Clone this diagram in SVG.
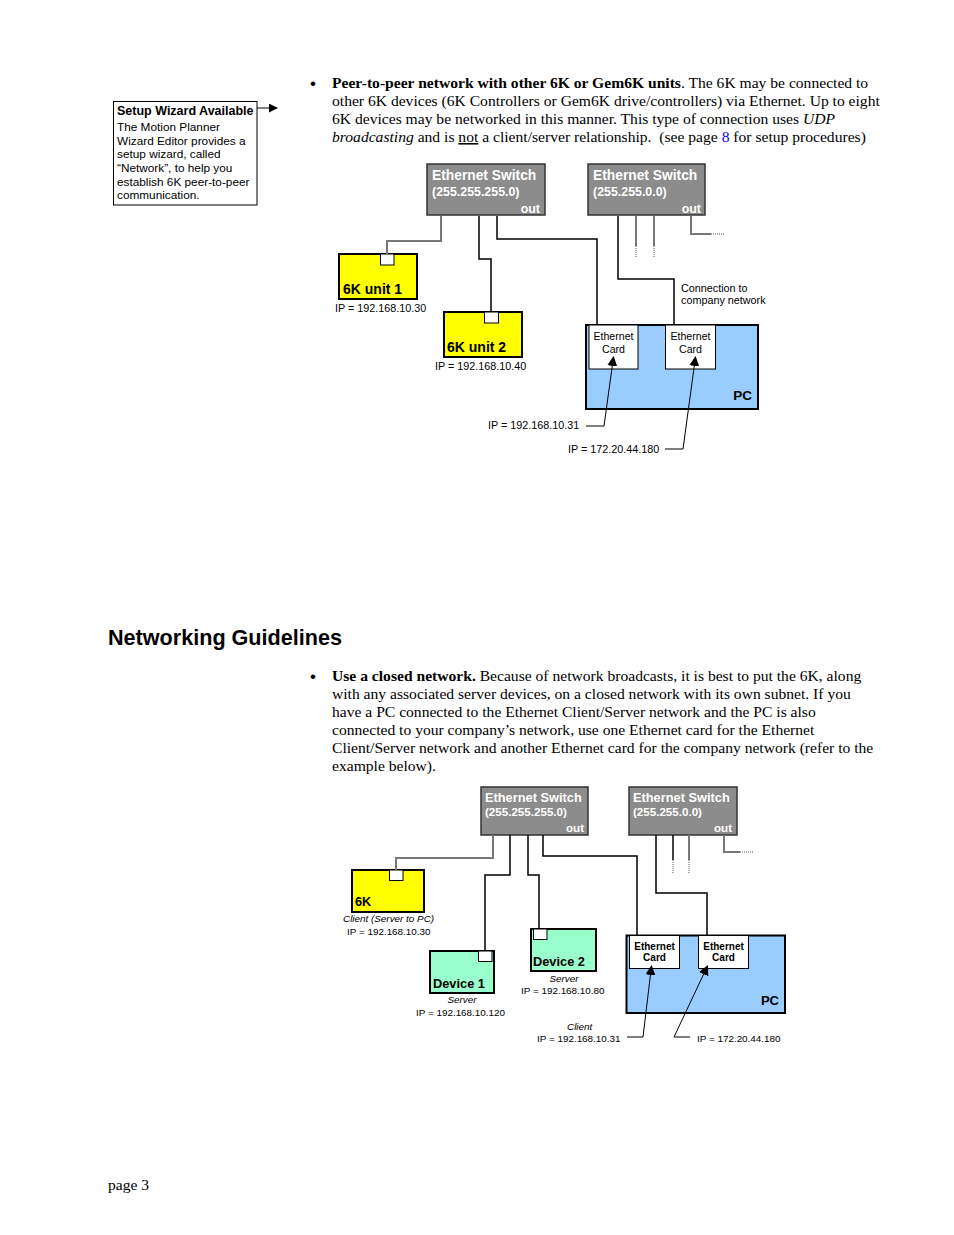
<svg xmlns="http://www.w3.org/2000/svg" width="954" height="1235" viewBox="0 0 954 1235">
<defs>
<marker id="ah" viewBox="0 0 10 10" refX="9" refY="5" markerWidth="10" markerHeight="10" markerUnits="userSpaceOnUse" orient="auto">
<path d="M0,0 L10,5 L0,10 z" fill="#000"/>
</marker>
<marker id="ar" viewBox="0 0 10 10" refX="9" refY="5" markerWidth="9" markerHeight="9" markerUnits="userSpaceOnUse" orient="auto">
<path d="M0,0 L10,5 L0,10 z" fill="#000"/>
</marker>
</defs>
<style>
.tm{font-family:"Liberation Serif","Times New Roman",serif;font-size:15.6px;fill:#000}
.bul{font-family:"Liberation Sans",Arial,sans-serif;font-size:17px;fill:#000}
.ar{font-family:"Liberation Sans",Arial,sans-serif;fill:#000}
.sw{fill:#8c8c8c;stroke:#333;stroke-width:1.5}
.swt{font-family:"Liberation Sans",Arial,sans-serif;font-weight:bold;fill:#fff}
.unit{fill:#ffff00;stroke:#000;stroke-width:2}
.dev{fill:#99ffcc;stroke:#000;stroke-width:2}
.port{fill:#fff;stroke:#000;stroke-width:1}
.pc{fill:#99ccff;stroke:#000;stroke-width:2}
.card{fill:#fff;stroke:#000;stroke-width:1}
.ln{fill:none;stroke:#000;stroke-width:1.5}
.lg{fill:none;stroke:#777;stroke-width:2}
.dot{fill:none;stroke:#555;stroke-width:1;stroke-dasharray:1,1}
.thin{fill:none;stroke:#000;stroke-width:1}
</style>
<rect width="954" height="1235" fill="#fff"/>

<!-- Sidebar -->
<g id="sidebar">
<rect x="113.5" y="101.5" width="143.5" height="103.5" fill="none" stroke="#000" stroke-width="1"/>
<line x1="257" y1="108" x2="277" y2="108" stroke="#000" stroke-width="1" marker-end="url(#ar)"/>
<text class="ar" x="117" y="115" font-size="12.5" font-weight="bold">Setup Wizard Available</text>
<text class="ar" font-size="11.8">
<tspan x="117" y="131">The Motion Planner</tspan>
<tspan x="117" y="145">Wizard Editor provides a</tspan>
<tspan x="117" y="158">setup wizard, called</tspan>
<tspan x="117" y="172">“Network”, to help you</tspan>
<tspan x="117" y="186">establish 6K peer-to-peer</tspan>
<tspan x="117" y="199">communication.</tspan>
</text>
</g>

<!-- Paragraph 1 -->
<g id="para1">
<text class="bul" x="310" y="89">•</text>
<text class="tm" x="332" y="88"><tspan font-weight="bold">Peer-to-peer network with other 6K or Gem6K units</tspan>. The 6K may be connected to</text>
<text class="tm" x="332" y="106">other 6K devices (6K Controllers or Gem6K drive/controllers) via Ethernet. Up to eight</text>
<text class="tm" x="332" y="124">6K devices may be networked in this manner. This type of connection uses <tspan font-style="italic">UDP</tspan></text>
<text class="tm" x="332" y="142" xml:space="preserve"><tspan font-style="italic">broadcasting</tspan> and is <tspan text-decoration="underline">not</tspan> a client/server relationship.  (see page <tspan fill="#0000ff">8</tspan> for setup procedures)</text>
</g>

<!-- Top diagram nodes -->
<g id="switch1">
<rect class="sw" x="427" y="164" width="118" height="51"/>
<text class="swt" x="432" y="180" font-size="13.8">Ethernet Switch</text>
<text class="swt" x="432" y="196" font-size="12.4">(255.255.255.0)</text>
<text class="swt" x="540" y="213" font-size="12.4" text-anchor="end">out</text>
</g>
<g id="switch2">
<rect class="sw" x="588" y="164" width="117" height="51"/>
<text class="swt" x="593" y="180" font-size="13.8">Ethernet Switch</text>
<text class="swt" x="593" y="196" font-size="12.4">(255.255.0.0)</text>
<text class="swt" x="701" y="213" font-size="12.4" text-anchor="end">out</text>
</g>
<g id="unit1">
<rect class="unit" x="339" y="254" width="78" height="45"/>
<rect class="port" x="380.5" y="254" width="13.5" height="11"/>
<text class="ar" x="343" y="294" font-size="14" font-weight="bold">6K unit 1</text>
<text class="ar" x="335" y="312" font-size="10.8">IP = 192.168.10.30</text>
</g>
<g id="unit2">
<rect class="unit" x="444" y="312" width="78" height="45"/>
<rect class="port" x="484.5" y="312" width="14" height="11"/>
<text class="ar" x="447" y="352" font-size="14" font-weight="bold">6K unit 2</text>
<text class="ar" x="435" y="370" font-size="10.8">IP = 192.168.10.40</text>
</g>
<g id="company-label">
<text class="ar" font-size="10.8"><tspan x="681" y="292">Connection to</tspan><tspan x="681" y="304">company network</tspan></text>
</g>
<g id="pc1">
<rect class="pc" x="586" y="325" width="172" height="84"/>
<rect class="card" x="589" y="325" width="49" height="44"/>
<rect class="card" x="665.5" y="325" width="50" height="44"/>
<text class="ar" font-size="10.6" text-anchor="middle"><tspan x="613.5" y="340">Ethernet</tspan><tspan x="613.5" y="353">Card</tspan></text>
<text class="ar" font-size="10.6" text-anchor="middle"><tspan x="690.5" y="340">Ethernet</tspan><tspan x="690.5" y="353">Card</tspan></text>
<text class="ar" x="752" y="400" font-size="13.5" font-weight="bold" text-anchor="end">PC</text>
</g>
<g id="ip-labels-top">
<text class="ar" x="488" y="429" font-size="10.8">IP = 192.168.10.31</text>
<text class="ar" x="568" y="453" font-size="10.8">IP = 172.20.44.180</text>
</g>

<!-- Top diagram connectors -->
<g id="connectors-top">
<path class="lg" d="M441,216 V241 H387 V254"/>
<path class="ln" d="M479,216 V259 H491 V312"/>
<path class="ln" d="M497,216 V239 H597 V325" stroke-width="2"/>
<path class="ln" d="M618,216 V279 H674 V325"/>
<path class="lg" d="M636,216 V246" stroke-width="1.5"/>
<path class="dot" d="M636,246 V258"/>
<path class="lg" d="M654,216 V246" stroke-width="1.5"/>
<path class="dot" d="M654,246 V258"/>
<path class="lg" d="M691,216 V234 H711" stroke="#555"/>
<path class="dot" d="M711,234 H725"/>
<path class="thin" d="M586,426 H604 L613.5,357" marker-end="url(#ah)"/>
<path class="thin" d="M665,449 H683 L695.5,357" marker-end="url(#ah)"/>
</g>

<!-- Heading -->
<g id="heading">
<text class="ar" x="108" y="645" font-size="21.6" font-weight="bold">Networking Guidelines</text>
</g>

<!-- Paragraph 2 -->
<g id="para2">
<text class="bul" x="310" y="682">•</text>
<text class="tm" x="332" y="681"><tspan font-weight="bold">Use a closed network.</tspan> Because of network broadcasts, it is best to put the 6K, along</text>
<text class="tm" x="332" y="699">with any associated server devices, on a closed network with its own subnet. If you</text>
<text class="tm" x="332" y="717">have a PC connected to the Ethernet Client/Server network and the PC is also</text>
<text class="tm" x="332" y="735">connected to your company’s network, use one Ethernet card for the Ethernet</text>
<text class="tm" x="332" y="753">Client/Server network and another Ethernet card for the company network (refer to the</text>
<text class="tm" x="332" y="771">example below).</text>
</g>

<!-- Bottom diagram nodes -->
<g id="switchA">
<rect class="sw" x="481" y="787" width="107" height="48"/>
<text class="swt" x="485" y="802" font-size="12.8">Ethernet Switch</text>
<text class="swt" x="485" y="816" font-size="11.6">(255.255.255.0)</text>
<text class="swt" x="584" y="832" font-size="11.6" text-anchor="end">out</text>
</g>
<g id="switchB">
<rect class="sw" x="629" y="787" width="108" height="48"/>
<text class="swt" x="633" y="802" font-size="12.8">Ethernet Switch</text>
<text class="swt" x="633" y="816" font-size="11.6">(255.255.0.0)</text>
<text class="swt" x="732" y="832" font-size="11.6" text-anchor="end">out</text>
</g>
<g id="node-6k">
<rect class="unit" x="352" y="870" width="72" height="42"/>
<rect class="port" x="389.5" y="870" width="13.5" height="10.5"/>
<text class="ar" x="355" y="906" font-size="12.8" font-weight="bold">6K</text>
<text class="ar" x="343" y="922" font-size="9.9" font-style="italic">Client (Server to PC)</text>
<text class="ar" x="347" y="935" font-size="9.9">IP = 192.168.10.30</text>
</g>
<g id="device1">
<rect class="dev" x="430" y="951" width="64" height="42"/>
<rect class="port" x="478.5" y="951" width="13.5" height="10.5"/>
<text class="ar" x="433" y="988" font-size="12.8" font-weight="bold">Device 1</text>
<text class="ar" x="462" y="1003" font-size="9.9" font-style="italic" text-anchor="middle">Server</text>
<text class="ar" x="416" y="1016" font-size="9.9">IP = 192.168.10.120</text>
</g>
<g id="device2">
<rect class="dev" x="531" y="929" width="65" height="42"/>
<rect class="port" x="533.5" y="929" width="13.5" height="10.5"/>
<text class="ar" x="533" y="966" font-size="12.8" font-weight="bold">Device 2</text>
<text class="ar" x="564" y="982" font-size="9.9" font-style="italic" text-anchor="middle">Server</text>
<text class="ar" x="521" y="994" font-size="9.9">IP = 192.168.10.80</text>
</g>
<g id="pc2">
<rect class="pc" x="626.5" y="935.5" width="158.5" height="77.5" stroke-width="1.2"/>
<rect class="card" x="629.5" y="935.5" width="50" height="33"/>
<rect class="card" x="698.5" y="935.5" width="50" height="33"/>
<text class="ar" font-size="10" font-weight="bold" text-anchor="middle"><tspan x="654.5" y="950">Ethernet</tspan><tspan x="654.5" y="961">Card</tspan></text>
<text class="ar" font-size="10" font-weight="bold" text-anchor="middle"><tspan x="723.5" y="950">Ethernet</tspan><tspan x="723.5" y="961">Card</tspan></text>
<text class="ar" x="779" y="1005" font-size="13" font-weight="bold" text-anchor="end">PC</text>
</g>
<g id="ip-labels-bottom">
<text class="ar" x="567" y="1030" font-size="9.9" font-style="italic">Client</text>
<text class="ar" x="537" y="1042" font-size="9.9">IP = 192.168.10.31</text>
<text class="ar" x="697" y="1042" font-size="9.9">IP = 172.20.44.180</text>
</g>

<!-- Bottom diagram connectors -->
<g id="connectors-bottom">
<path class="lg" d="M493,835 V858 H396 V870"/>
<path class="ln" d="M510,835 V875 H485 V950"/>
<path class="ln" d="M528,835 V875 H539 V928"/>
<path class="ln" d="M543,835 V856 H637 V935"/>
<path class="ln" d="M656,835 V893 H707 V935"/>
<path class="ln" d="M673,835 V860"/>
<path class="dot" d="M673,860 V873"/>
<path class="lg" d="M689,835 V860" stroke-width="1.5"/>
<path class="dot" d="M689,860 V873"/>
<path class="lg" d="M724,835 V852 H740" stroke="#555" stroke-width="1.5"/>
<path class="dot" d="M740,852 H754"/>
<path class="thin" d="M627,1037 H643 L651.5,966" marker-end="url(#ah)"/>
<path class="thin" d="M690,1037 H674 L707.5,966" marker-end="url(#ah)"/>
</g>

<g id="footer">
<text class="tm" x="108" y="1190">page 3</text>
</g>
</svg>
